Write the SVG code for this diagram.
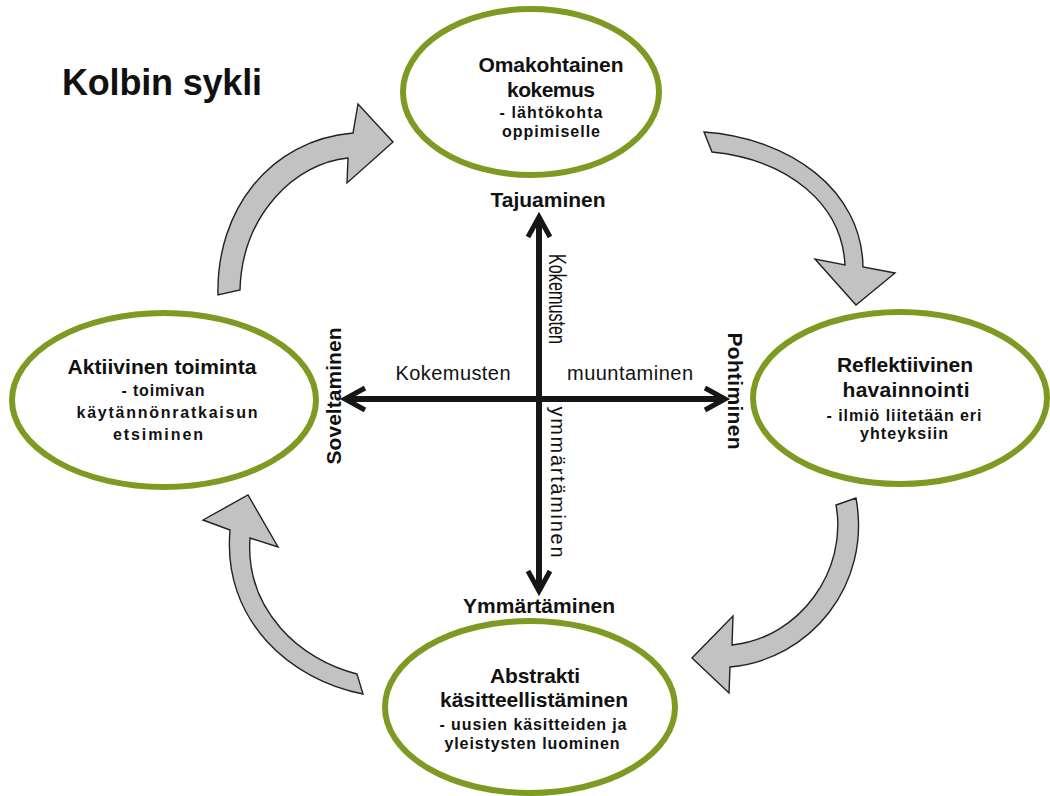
<svg xmlns="http://www.w3.org/2000/svg" width="1050" height="796" viewBox="0 0 1050 796">
  <style>
    .node ellipse { fill: #ffffff; stroke: #7d9b22; stroke-width: 6; }
    .t { font-family: "Liberation Sans", Arial, sans-serif; fill: #111; text-anchor: middle; }
    .h { font-size: 21px; font-weight: bold; }
    .s { font-size: 16px; font-weight: bold; }
    .lab { font-size: 21px; font-weight: bold; }
    .axis-t { font-size: 20px; font-weight: normal; }
    .cycle path { fill: #c2c2c2; stroke: #222; stroke-width: 1.4; stroke-linejoin: miter; }
    .axis line { stroke: #161616; stroke-width: 6; }
    .axis polyline { fill: none; stroke: #161616; stroke-width: 5; stroke-linejoin: miter; stroke-linecap: butt; }
  </style>

  <rect width="1050" height="796" fill="#ffffff"/>

  <text class="t" x="62" y="95" style="text-anchor:start;font-size:36px;font-weight:bold" textLength="200">Kolbin sykli</text>

  <!-- cycle arrows between the four stages -->
  <g id="connectors">
    <g class="cycle">
      <!-- active experimentation -> concrete experience -->
      <path d="M218,295 C216,210 270,140 353,133 L358,104 L393,142 L347,183 L348,158 C295,163 242,215 240,290 Z"/>
      <!-- concrete experience -> reflective observation -->
      <path d="M704,132 C790,138 862,190 863,267 L895,273 L856,305 L815,259 L845,265 C842,205 790,160 712,152 Z"/>
      <!-- reflective observation -> abstract conceptualisation -->
      <path d="M856,498 C872,585 810,660 730,667 L729,693 L692,658 L733,616 L732,645 C800,638 848,570 836,505 Z"/>
      <!-- abstract conceptualisation -> active experimentation -->
      <path d="M363,694 C290,680 222,620 230,530 L203,520 L248,495 L278,547 L250,538 C245,610 300,660 357,674 Z"/>
    </g>

    <!-- central axes -->
    <g class="axis">
      <line x1="539" y1="218" x2="539" y2="590"/>
      <line x1="346" y1="399" x2="724" y2="399"/>
      <polyline points="528,237 539,217 550,237"/>
      <polyline points="528,571 539,591 550,571"/>
      <polyline points="365,388 345,399 365,410"/>
      <polyline points="705,388 725,399 705,410"/>
    </g>
  </g>

  <!-- axis labels -->
  <g id="axis-labels">
    <text class="t lab" x="548" y="207" textLength="115">Tajuaminen</text>
    <text class="t lab" x="539" y="613" textLength="152">Ymmärtäminen</text>
    <text class="t lab" transform="translate(728,391) rotate(90)" x="0" y="0" textLength="117">Pohtiminen</text>
    <text class="t lab" transform="translate(341,396) rotate(-90)" x="0" y="0" textLength="137">Soveltaminen</text>
    <text class="t axis-t" x="453" y="380" textLength="115">Kokemusten</text>
    <text class="t axis-t" x="630" y="380" textLength="126">muuntaminen</text>
    <text class="t axis-t" transform="translate(549,299) rotate(90)" x="0" y="0" style="font-size:23px" textLength="90" lengthAdjust="spacingAndGlyphs">Kokemusten</text>
    <text class="t axis-t" transform="translate(551,482) rotate(90)" x="0" y="0" textLength="151">ymmärtäminen</text>
  </g>

  <g id="node-experience" class="node">
    <ellipse cx="531" cy="92" rx="128" ry="83"/>
    <text class="t h" x="551" y="72" textLength="145">Omakohtainen</text>
    <text class="t h" x="551" y="97" textLength="88">kokemus</text>
    <text class="t s" x="551" y="118" textLength="103">- lähtökohta</text>
    <text class="t s" x="551" y="137" textLength="98">oppimiselle</text>
  </g>

  <g id="node-reflection" class="node">
    <ellipse cx="900" cy="398" rx="147" ry="86"/>
    <text class="t h" x="905" y="372" textLength="136">Reflektiivinen</text>
    <text class="t h" x="906" y="397" textLength="127">havainnointi</text>
    <text class="t s" x="904" y="421" textLength="155">- ilmiö liitetään eri</text>
    <text class="t s" x="904" y="439" textLength="88">yhteyksiin</text>
  </g>

  <g id="node-conceptualisation" class="node">
    <ellipse cx="530" cy="707" rx="145" ry="86"/>
    <text class="t h" x="535" y="683" textLength="90">Abstrakti</text>
    <text class="t h" x="534" y="707" textLength="188">käsitteellistäminen</text>
    <text class="t s" x="533" y="730" textLength="187">- uusien käsitteiden ja</text>
    <text class="t s" x="532" y="749" textLength="175">yleistysten luominen</text>
  </g>

  <g id="node-experimentation" class="node">
    <ellipse cx="164" cy="400" rx="152" ry="87"/>
    <text class="t h" x="162" y="374" textLength="189">Aktiivinen toiminta</text>
    <text class="t s" x="163" y="396" textLength="83">- toimivan</text>
    <text class="t s" x="167" y="418" textLength="181">käytännönratkaisun</text>
    <text class="t s" x="158" y="440" textLength="90">etsiminen</text>
  </g>
</svg>
